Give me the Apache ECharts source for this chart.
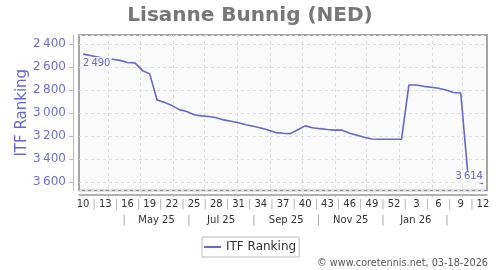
<!DOCTYPE html>
<html>
<head>
<meta charset="utf-8">
<script src="https://cdn.jsdelivr.net/npm/echarts@6/dist/echarts.min.js"></script>
<style>html,body{margin:0;padding:0;background:#fff;}#c{width:500px;height:270px;}</style>
</head>
<body>
<div id="c"></div>
<script>
// ---- data ----
const titleText = 'Lisanne Bunnig (NED)';
const seriesName = 'ITF Ranking';
// weekly ITF ranking, first point = week 10 of 2025, last = week 12 of 2026
const ranks = [2490, 2502, 2516, 2529, 2534, 2544, 2563, 2566, 2631, 2661,
               2888, 2908, 2936, 2971, 2987, 3015, 3025, 3030, 3041, 3060,
               3071, 3084, 3102, 3115, 3130, 3148, 3170, 3176, 3179, 3145,
               3112, 3128, 3136, 3143, 3149, 3149, 3176, 3193, 3210, 3225,
               3228, 3228, 3228, 3228, 2757, 2757, 2769, 2777, 2786, 2801,
               2823, 2827, 3560, 3590, 3614];
const weekLabels = ['10','13','16','19','22','25','28','31','34','37','40','43','46','49','52','3','6','9','12'];
const monthLabels = ['May 25','Jul 25','Sep 25','Nov 25','Jan 26'];
const monthStarts = ['2025-04','2025-05','2025-06','2025-07','2025-08','2025-09','2025-10','2025-11','2025-12','2026-01','2026-02','2026-03'];
const copyright = '\u00a9 www.coretennis.net, 03-18-2026';

// ---- helpers ----
const BASE = Date.UTC(2025, 2, 8);
function dayOf(y, m, d) { return (Date.UTC(y, m - 1, d) - BASE) / 864e5; }
function midMonth(y, m) {
  const len = (Date.UTC(y, m, 1) - Date.UTC(y, m - 1, 1)) / 864e5;
  return dayOf(y, m, 1) + len / 2;
}
const monthStartDays = monthStarts.map(s => { const [y, m] = s.split('-').map(Number); return dayOf(y, m, 1); });
const weekPos = weekLabels.map((_, i) => i * 21);
const weekSepPos = weekLabels.slice(0, -1).map((_, i) => i * 21 + 10.5);
const monthLabelPos = [[2025,5],[2025,7],[2025,9],[2025,11],[2026,1]].map(a => midMonth(a[0], a[1]));
const monthSepPos = [[2025,4],[2025,6],[2025,8],[2025,10],[2025,12],[2026,2]].map(a => midMonth(a[0], a[1]));

const fmtNum = v => String(Math.round(v)).replace(/\B(?=(\d{3})+$)/g, '\u2009');
const XMIN = -3.8, XMAX = 381.8;
const LC = '#6666cc';

const seriesData = ranks.map((v, i) => {
  const item = { value: [i * 7, v] };
  if (i === 0) {
    item.label = { show: true, position: [-1, 3], align: 'left', verticalAlign: 'top' };
  } else if (i === ranks.length - 1) {
    item.label = { show: true, position: [1, -1], align: 'right', verticalAlign: 'bottom' };
  }
  return item;
});

const baseX = { type: 'value', gridIndex: 0, position: 'bottom', offset: 4.5, min: XMIN, max: XMAX,
  axisLine: { show: false, onZero: false }, axisTick: { show: false }, splitLine: { show: false } };

const chart = echarts.init(document.getElementById('c'), null, { renderer: 'canvas' });
chart.setOption({
  animation: false,
  textStyle: { fontFamily: 'DejaVu Sans' },
  title: { text: titleText, left: 'center', top: 1,
    textStyle: { fontSize: 20, fontWeight: 'bold', color: '#777777', fontFamily: 'DejaVu Sans' } },
  grid: { left: 79, right: 13, top: 35, bottom: 79.5, show: true,
    backgroundColor: '#fafafa', borderColor: '#888888', borderWidth: 1.5 },
  legend: { left: 202, top: 237, padding: [4, 3, 4, 2], borderColor: '#bbbbbb', borderWidth: 1,
    itemWidth: 17, itemHeight: 2, textStyle: { fontSize: 12, color: '#333' },
    data: [{ name: seriesName, icon: 'rect' }] },
  xAxis: [
    Object.assign({}, baseX, {
      axisLine: { show: true, onZero: false, lineStyle: { color: '#999999', width: 1.5 } },
      axisTick: { show: true, length: 2, customValues: monthStartDays, lineStyle: { color: '#bbbbbb' } },
      splitLine: { show: true, lineStyle: { color: '#dddddd', type: [3, 3], width: 1 } },
      axisLabel: { customValues: weekPos, margin: 4, fontSize: 10, color: '#333',
        formatter: v => { const i = Math.round(v / 21); return weekLabels[i] || ''; } }
    }),
    Object.assign({}, baseX, {
      axisLabel: { customValues: weekSepPos, margin: 4, fontSize: 10, color: '#aaaaaa', formatter: () => '|' }
    }),
    Object.assign({}, baseX, {
      axisLabel: { customValues: monthLabelPos, margin: 20, fontSize: 10, color: '#333',
        formatter: v => { let b = 0, bd = 1e9; monthLabelPos.forEach((p, i) => { if (Math.abs(p - v) < bd) { bd = Math.abs(p - v); b = i; } }); return monthLabels[b]; } }
    }),
    Object.assign({}, baseX, {
      axisLabel: { customValues: monthSepPos, margin: 20, fontSize: 10, color: '#999999', formatter: () => '|' }
    })
  ],
  yAxis: {
    type: 'value', inverse: true, min: 2324, max: 3672, splitNumber: 7, offset: 6,
    axisLine: { show: true, onZero: false, lineStyle: { color: '#b3b3e0', width: 1 } },
    axisTick: { show: true, length: 4, lineStyle: { color: '#b3b3e0' } },
    axisLabel: { color: '#6e6ecc', fontSize: 12, margin: 7, showMinLabel: false, showMaxLabel: false, formatter: fmtNum },
    splitLine: { show: true, lineStyle: { color: '#dddddd', type: [3, 3], width: 1 } },
    name: seriesName, nameLocation: 'middle', nameGap: 43, nameMoveOverlap: false,
    nameTextStyle: { color: LC, fontSize: 15 }
  },
  series: [{
    type: 'line', name: seriesName, xAxisIndex: 0, yAxisIndex: 0,
    data: seriesData, showSymbol: true, symbol: 'circle', symbolSize: 0,
    lineStyle: { color: LC, width: 1.6 }, itemStyle: { color: LC },
    label: { show: false, formatter: p => fmtNum(p.value[1]), fontSize: 10, color: LC,
      backgroundColor: '#fafafa', padding: [1, 1, 1, 1] },
    emphasis: { disabled: true }, z: 3
  }],
  graphic: [{ type: 'text', right: 12, top: 258,
    style: { text: copyright, fontSize: 9.7, fill: '#555555', fontFamily: 'DejaVu Sans' } }]
});
</script>
</body>
</html>
